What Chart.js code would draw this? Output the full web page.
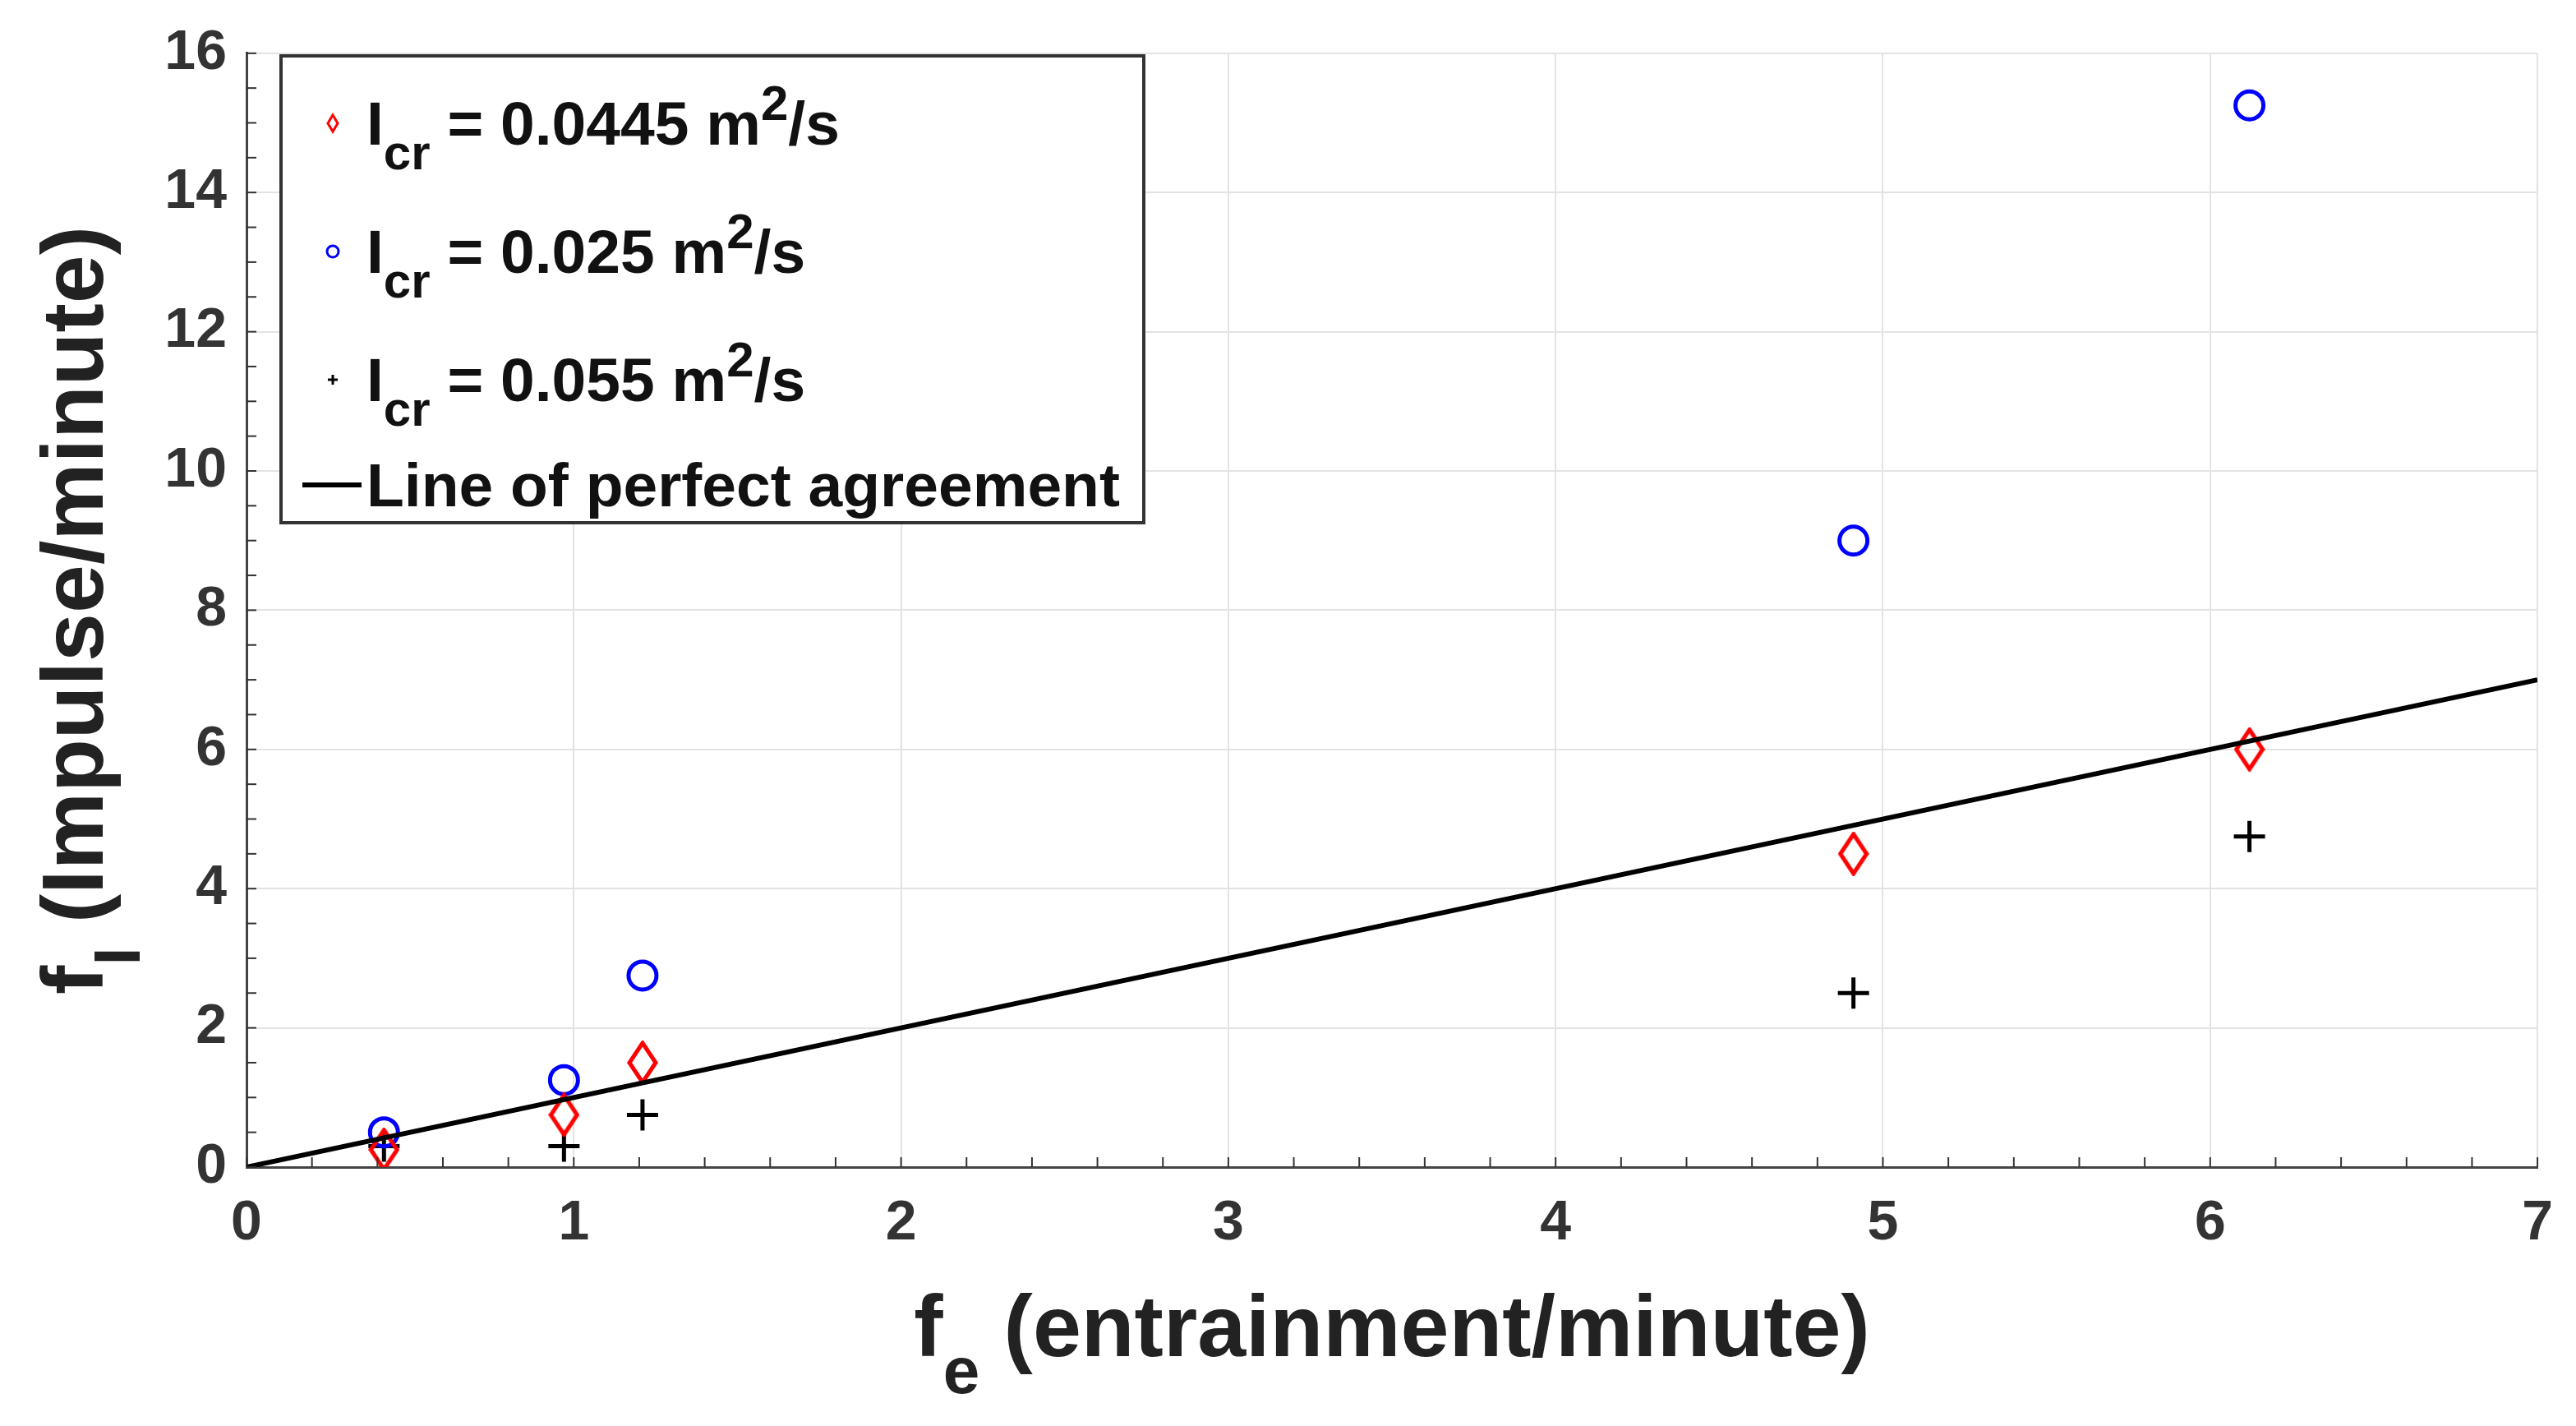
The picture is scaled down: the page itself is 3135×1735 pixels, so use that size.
<!DOCTYPE html>
<html>
<head>
<meta charset="utf-8">
<script src="https://cdn.jsdelivr.net/npm/chart.js@4.4.1/dist/chart.umd.min.js"></script>
<style>
  html, body { margin: 0; padding: 0; background: #fff; }
  #wrap { width: 3135px; height: 1735px; }
</style>
</head>
<body>
<div id="wrap"><canvas id="chart" width="3135" height="1735"></canvas></div>
<script>
const feValues = [0.42, 0.97, 1.21, 4.91, 6.12];
const fiRed = [0.25, 0.75, 1.5, 4.5, 6.0];
const fiBlue = [0.5, 1.25, 2.75, 9.0, 15.25];
const fiBlack = [0.3, 0.3, 0.75, 2.5, 4.75];
const agreementLine = [0, 7];
const legendValues = ['0.0445', '0.025', '0.055'];

const FONT = '"Liberation Sans", Arial, sans-serif';

// tall thin diamond marker like MATLAB
const diamond = document.createElement('canvas');
diamond.width = 38; diamond.height = 54;
(() => {
  const c = diamond.getContext('2d');
  c.strokeStyle = '#ff0000'; c.lineWidth = 5;
  c.beginPath();
  c.moveTo(19, 3); c.lineTo(35, 27); c.lineTo(19, 51); c.lineTo(3, 27); c.closePath();
  c.stroke();
})();

const pts = (ys) => feValues.map((x, i) => ({ x, y: ys[i] }));

function richText(ctx, parts, x, y, size) {
  parts.forEach(p => {
    const s = p.s || 1;
    ctx.font = `bold ${Math.round(size * s)}px ${FONT}`;
    ctx.fillText(p.t, x, y + (p.dy || 0) * size);
    x += ctx.measureText(p.t).width;
  });
  return x;
}

function richWidth(ctx, parts, size) {
  let w = 0;
  parts.forEach(p => { ctx.font = `bold ${Math.round(size * (p.s || 1))}px ${FONT}`; w += ctx.measureText(p.t).width; });
  return w;
}

const decor = {
  id: 'decor',
  afterDraw(chart) {
    const ctx = chart.ctx;
    const xs = chart.scales.x, ys = chart.scales.y;
    ctx.save();
    // minor ticks
    ctx.strokeStyle = '#333'; ctx.lineWidth = 2;
    for (let v = 0; v <= 7.001; v += 0.2) {
      const px = xs.getPixelForValue(v);
      ctx.beginPath(); ctx.moveTo(px, ys.bottom); ctx.lineTo(px, ys.bottom - 12); ctx.stroke();
    }
    for (let v = 0; v <= 16.001; v += 0.5) {
      const py = ys.getPixelForValue(v);
      ctx.beginPath(); ctx.moveTo(xs.left, py); ctx.lineTo(xs.left + 12, py); ctx.stroke();
    }
    ctx.fillStyle = '#222';
    ctx.textBaseline = 'alphabetic';
    ctx.textAlign = 'left';
    // x title
    const xt = [{ t: 'f' }, { t: 'e', s: 0.75, dy: 0.42 }, { t: ' (entrainment/minute)' }];
    let w = richWidth(ctx, xt, 106);
    richText(ctx, xt, (xs.left + xs.right) / 2 - w / 2, 1650, 106);
    // y title
    ctx.save();
    ctx.translate(125, (ys.top + ys.bottom) / 2);
    ctx.rotate(-Math.PI / 2);
    const yt = [{ t: 'f' }, { t: 'I', s: 0.75, dy: 0.42 }, { t: ' (Impulse/minute)' }];
    w = richWidth(ctx, yt, 106);
    richText(ctx, yt, -w / 2, 0, 106);
    ctx.restore();
    // legend box
    ctx.fillStyle = '#fff';
    ctx.fillRect(342, 68, 1050, 568);
    ctx.strokeStyle = '#333'; ctx.lineWidth = 4;
    ctx.strokeRect(342, 68, 1050, 568);
    ctx.fillStyle = '#111';
    const rowsY = [176, 332, 488];
    legendValues.forEach((v, i) => {
      richText(ctx, [{ t: 'I' }, { t: 'cr', s: 0.8, dy: 0.4 }, { t: ' = ' + v + ' m' }, { t: '2', s: 0.8, dy: -0.4 }, { t: '/s' }], 446, rowsY[i], 75);
      const my = rowsY[i] - 26;
      ctx.lineWidth = 3;
      if (i === 0) {
        ctx.strokeStyle = '#ff0000';
        ctx.beginPath(); ctx.moveTo(405, my - 10); ctx.lineTo(411, my); ctx.lineTo(405, my + 10); ctx.lineTo(399, my); ctx.closePath(); ctx.stroke();
      } else if (i === 1) {
        ctx.strokeStyle = '#0000ff';
        ctx.beginPath(); ctx.arc(405, my, 7, 0, Math.PI * 2); ctx.stroke();
      } else {
        ctx.strokeStyle = '#000';
        ctx.beginPath(); ctx.moveTo(399, my); ctx.lineTo(411, my); ctx.moveTo(405, my - 6); ctx.lineTo(405, my + 6); ctx.stroke();
      }
    });
    ctx.strokeStyle = '#000'; ctx.lineWidth = 6;
    ctx.beginPath(); ctx.moveTo(368, 590); ctx.lineTo(440, 590); ctx.stroke();
    richText(ctx, [{ t: 'Line of perfect agreement' }], 446, 616, 75);
    ctx.restore();
  }
};

new Chart(document.getElementById('chart'), {
  type: 'scatter',
  data: {
    datasets: [
      {
        label: 'agreement',
        type: 'line',
        data: agreementLine.map(v => ({ x: v, y: v })),
        borderColor: '#000',
        borderWidth: 6,
        pointRadius: 0
      },
      {
        label: 'red',
        data: pts(fiRed),
        pointStyle: diamond,
        pointRadius: 18
      },
      {
        label: 'blue',
        data: pts(fiBlue),
        pointStyle: 'circle',
        pointRadius: 17,
        borderColor: '#0000ff',
        backgroundColor: 'rgba(0,0,0,0)',
        borderWidth: 5
      },
      {
        label: 'black',
        data: pts(fiBlack),
        pointStyle: 'cross',
        pointRadius: 19,
        borderColor: '#000',
        borderWidth: 5
      }
    ]
  },
  options: {
    responsive: false,
    devicePixelRatio: 1,
    animation: false,
    layout: { padding: { top: 56, right: 39, left: 0, bottom: 0 } },
    scales: {
      x: {
        type: 'linear', min: 0, max: 7,
        afterFit: (s) => { s.height = 315; },
        grid: { color: '#e3e3e3', lineWidth: 2, drawTicks: false },
        border: { color: '#444', width: 3 },
        ticks: { stepSize: 1, padding: 28, color: '#333', font: { family: FONT, weight: 'bold', size: 68 } }
      },
      y: {
        type: 'linear', min: 0, max: 16,
        afterFit: (s) => { s.width = 300; },
        grid: { color: '#e3e3e3', lineWidth: 2, drawTicks: false },
        border: { color: '#444', width: 3 },
        ticks: { stepSize: 2, padding: 24, color: '#333', font: { family: FONT, weight: 'bold', size: 68 } }
      }
    },
    plugins: { legend: { display: false }, tooltip: { enabled: false } }
  },
  plugins: [decor]
});
</script>
</body>
</html>
